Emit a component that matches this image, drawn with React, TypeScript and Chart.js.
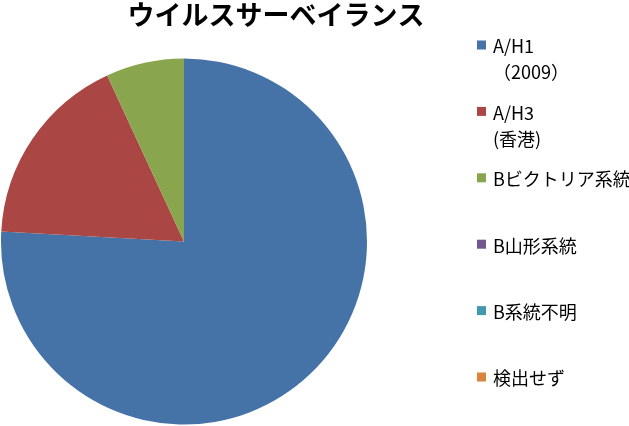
import React, { useEffect, useRef } from "react";
import { Chart, registerables } from "chart.js";

Chart.register(...registerables);

const TITLE = "ウイルスサーベイランス";
const categories = [
  ["A/H1", "（2009）"],
  ["A/H3", "(香港)"],
  ["Bビクトリア系統"],
  ["B山形系統"],
  ["B系統不明"],
  ["検出せず"],
];
const counts = [22, 5, 2, 0, 0, 0];
const colors = ["#4572A7", "#AA4643", "#89A54E", "#71588F", "#4198AF", "#DB843D"];

const FONT = "'Noto Sans CJK JP', 'Noto Sans', sans-serif";

const overlayPlugin = {
  id: "overlay",
  afterDraw(chart: any) {
    const ctx = chart.ctx;
    ctx.save();
    // title
    ctx.fillStyle = "#000";
    ctx.font = `bold 27px ${FONT}`;
    ctx.textAlign = "center";
    ctx.textBaseline = "middle";
    ctx.fillText(TITLE, 276, 15);
    // legend
    const labels = chart.data.labels as string[][];
    const bg = chart.data.datasets[0].backgroundColor as string[];
    ctx.font = `18px ${FONT}`;
    ctx.textAlign = "left";
    labels.forEach((lab, i) => {
      const y = 45 + i * 66.4;
      ctx.fillStyle = bg[i];
      ctx.fillRect(477, y - 4.5, 9, 9);
      ctx.fillStyle = "#000";
      lab.forEach((line, j) => {
        ctx.fillText(line, 493, y + 1.5 + j * 26);
      });
    });
    ctx.restore();
  },
};

export default function App() {
  const ref = useRef<HTMLCanvasElement>(null);
  useEffect(() => {
    document.body.style.margin = "0";
    const chart = new Chart(ref.current!, {
      type: "pie",
      data: {
        labels: categories,
        datasets: [
          {
            data: counts,
            backgroundColor: colors,
            borderWidth: 0,
          },
        ],
      },
      options: {
        animation: false,
        responsive: false,
        devicePixelRatio: 1,
        layout: { padding: { left: 1, right: 262, top: 58.5, bottom: 1.5 } },
        plugins: {
          legend: { display: false },
          title: { display: false },
          tooltip: { enabled: false },
        },
      },
      plugins: [overlayPlugin],
    });
    return () => chart.destroy();
  }, []);
  return (
    <div style={{ position: "absolute", left: 0, top: 0, width: 629, height: 426, background: "#fff" }}>
      <canvas ref={ref} width={629} height={426} style={{ width: 629, height: 426 }} />
    </div>
  );
}
